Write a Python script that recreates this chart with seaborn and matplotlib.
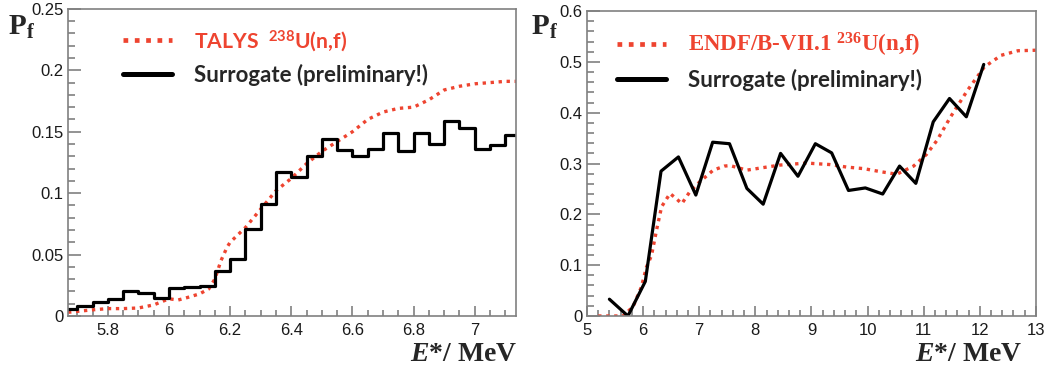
import matplotlib
matplotlib.use("Agg")
import matplotlib.pyplot as plt
import seaborn as sns
import pandas as pd
from matplotlib.ticker import MultipleLocator, FuncFormatter

# --- left panel: 238U ---
bin_edges = [5.65, 5.70, 5.75, 5.80, 5.85, 5.90, 5.95, 6.00, 6.05, 6.10,
             6.15, 6.20, 6.25, 6.30, 6.35, 6.40, 6.45, 6.50, 6.55, 6.60,
             6.65, 6.70, 6.75, 6.80, 6.85, 6.90, 6.95, 7.00, 7.05, 7.10, 7.15]
surr_238 = [0.006, 0.008, 0.011, 0.014, 0.020, 0.019, 0.015, 0.023, 0.0235, 0.024,
            0.037, 0.046, 0.071, 0.091, 0.117, 0.113, 0.130, 0.144, 0.135, 0.130,
            0.136, 0.149, 0.134, 0.149, 0.140, 0.159, 0.153, 0.136, 0.139, 0.147]

talys_e = [5.67, 5.75, 5.80, 5.85, 5.90, 5.95, 6.00, 6.03, 6.06, 6.10, 6.13, 6.15,
           6.17, 6.19, 6.20, 6.25, 6.30, 6.35, 6.40, 6.45, 6.50, 6.55, 6.60, 6.65,
           6.70, 6.75, 6.80, 6.85, 6.90, 6.95, 7.00, 7.05, 7.10, 7.135]
talys_pf = [0.003, 0.005, 0.006, 0.006, 0.0065, 0.009, 0.014, 0.013, 0.015, 0.018, 0.022, 0.030,
            0.045, 0.056, 0.060, 0.072, 0.087, 0.102, 0.112, 0.124, 0.134, 0.142, 0.150, 0.160,
            0.166, 0.169, 0.170, 0.176, 0.184, 0.187, 0.189, 0.190, 0.191, 0.191]

# --- right panel: 236U ---
endf_e = [5.20, 5.64, 5.82, 5.97, 6.06, 6.15, 6.24, 6.33, 6.48, 6.58, 6.69, 6.83,
          7.01, 7.25, 7.45, 7.55, 7.85, 8.14, 8.44, 8.92, 9.04, 9.33, 9.63, 9.93,
          10.23, 10.52, 10.82, 11.05, 11.24, 11.48, 11.78, 12.08, 12.38, 12.68, 13.0]
endf_pf = [0.0, 0.0, 0.018, 0.057, 0.096, 0.119, 0.169, 0.215, 0.241, 0.232, 0.221, 0.244,
           0.264, 0.287, 0.295, 0.296, 0.287, 0.292, 0.297, 0.301, 0.300, 0.298, 0.293, 0.290,
           0.284, 0.279, 0.295, 0.318, 0.346, 0.392, 0.444, 0.490, 0.513, 0.522, 0.523]

surr_e = [5.40, 5.73, 6.04, 6.32, 6.63, 6.94, 7.24, 7.54, 7.85, 8.14, 8.45, 8.76,
          9.07, 9.36, 9.66, 9.96, 10.27, 10.57, 10.86, 11.17, 11.46, 11.76, 12.07]
surr_236 = [0.033, 0.0, 0.068, 0.285, 0.313, 0.238, 0.342, 0.339, 0.251, 0.220, 0.320, 0.275,
            0.339, 0.321, 0.247, 0.252, 0.240, 0.295, 0.261, 0.382, 0.428, 0.392, 0.495]

RED = "#EE4430"
GREY = "#808080"

sns.set_style("ticks")
plt.rcParams["font.family"] = ["Liberation Sans", "DejaVu Sans"]
plt.rcParams["mathtext.fontset"] = "custom"
plt.rcParams["mathtext.rm"] = "Liberation Serif:bold"
plt.rcParams["mathtext.it"] = "Liberation Serif:italic:bold"
plt.rcParams["mathtext.sf"] = "Lato:bold"

fig = plt.figure(figsize=(10.5, 3.7), dpi=100)
ax1 = fig.add_axes([0.0648, 0.146, 0.4267, 0.830])
ax2 = fig.add_axes([0.559, 0.146, 0.4276, 0.824])

# histogram as steps (last value repeated for the closing edge)
df_hist = pd.DataFrame({"E": bin_edges, "Pf": surr_238 + [surr_238[-1]]})
df_talys = pd.DataFrame({"E": talys_e, "Pf": talys_pf})
sns.lineplot(data=df_talys, x="E", y="Pf", ax=ax1, color=RED, lw=2.4,
             label="TALYS  $^{\\mathsf{238}}$U(n,f)")
ax1.lines[-1].set_dashes((1, 1.4))
sns.lineplot(data=df_hist, x="E", y="Pf", ax=ax1, color="black", lw=2.3,
             drawstyle="steps-post", label="Surrogate (preliminary!)")

df_endf = pd.DataFrame({"E": endf_e, "Pf": endf_pf})
df_surr = pd.DataFrame({"E": surr_e, "Pf": surr_236})
sns.lineplot(data=df_endf, x="E", y="Pf", ax=ax2, color=RED, lw=2.4,
             label="ENDF/B-VII.1 $^{\\mathrm{236}}$U(n,f)")
ax2.lines[-1].set_dashes((1, 1.4))
sns.lineplot(data=df_surr, x="E", y="Pf", ax=ax2, color="black", lw=2.3,
             label="Surrogate (preliminary!)")

ax1.set_xlim(5.67, 7.135)
ax1.set_ylim(0, 0.25)
ax1.xaxis.set_major_locator(MultipleLocator(0.2))
ax1.xaxis.set_minor_locator(MultipleLocator(0.05))
ax1.yaxis.set_major_locator(MultipleLocator(0.05))
ax1.yaxis.set_minor_locator(MultipleLocator(0.01))

ax2.set_xlim(5, 13)
ax2.set_ylim(0, 0.6)
ax2.xaxis.set_major_locator(MultipleLocator(1))
ax2.xaxis.set_minor_locator(MultipleLocator(0.2))
ax2.yaxis.set_major_locator(MultipleLocator(0.1))
ax2.yaxis.set_minor_locator(MultipleLocator(0.02))

fmt = FuncFormatter(lambda v, p: f"{v:g}")
for ax, leg_x in [(ax1, 0.123), (ax2, 0.067)]:
    ax.xaxis.set_major_formatter(fmt)
    ax.yaxis.set_major_formatter(fmt)
    for s in ax.spines.values():
        s.set_visible(True)
        s.set_color(GREY)
        s.set_linewidth(1.2)
    ax.tick_params(which="both", direction="in", color=GREY, width=1.2,
                   labelsize=12, labelcolor="#1a1a1a", top=False, right=False)
    ax.tick_params(axis="y", which="major", length=9, pad=3)
    ax.tick_params(axis="y", which="minor", length=5)
    ax.tick_params(axis="x", which="major", length=7, pad=5)
    ax.tick_params(axis="x", which="minor", length=4)
    ax.set_xlabel("")
    ax.set_ylabel("")
    ax.grid(False)

    leg = ax.legend(loc="upper left", bbox_to_anchor=(leg_x, 0.935), frameon=False,
                    fontsize=16, handlelength=2.2, handletextpad=1.0,
                    labelspacing=0.45, borderpad=0, borderaxespad=0)
    texts = leg.get_texts()
    texts[0].set_color(RED)
    for t in texts:
        t.set_family(["Lato", "DejaVu Sans"])
        t.set_fontweight("bold")
    hl = leg.get_lines()
    hl[0].set_linewidth(3.4)
    hl[0].set_dashes((1, 1.4))
    hl[1].set_linewidth(3.6)

# left TALYS entry a touch smaller, right ENDF entry in a serif face
ax1.get_legend().get_texts()[0].set_fontsize(15.2)
endf_txt = ax2.get_legend().get_texts()[0]
endf_txt.set_family(["Liberation Serif", "DejaVu Serif"])
endf_txt.set_fontsize(16.5)

# P_f labels and x-axis titles
for x0 in [8, 531]:
    fig.text(x0 / 1050, 1 - 35 / 370, r"$\mathrm{P}_{\mathrm{f}}$", fontsize=21,
             ha="left", va="baseline")
for x1 in [517, 1022]:
    fig.text(x1 / 1050, 1 - 361 / 370, r"$E$*/ MeV", fontsize=20, fontweight="bold",
             family=["Liberation Serif"], ha="right", va="baseline")

fig.savefig("out.png", dpi=100, facecolor="white")
